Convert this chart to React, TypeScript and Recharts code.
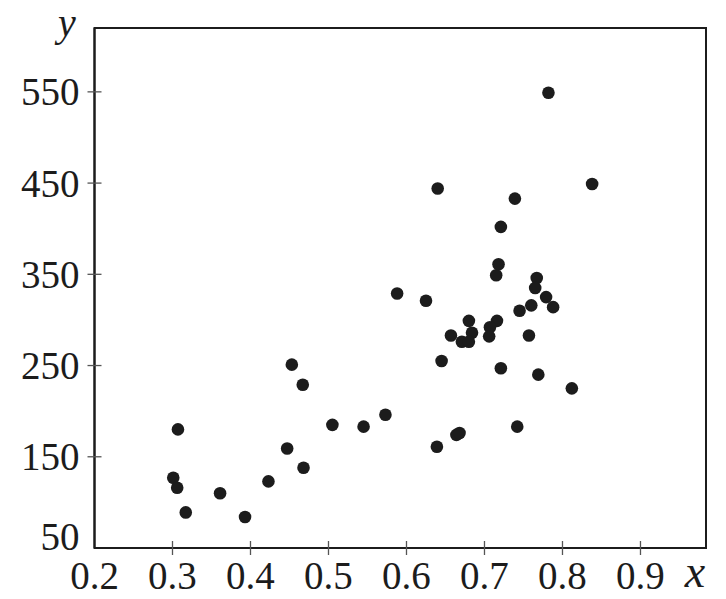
import { ScatterChart, Scatter, XAxis, YAxis, ReferenceArea } from 'recharts'

// values, one x/y pair per dot
const xVals = [
  0.782, 0.640, 0.739, 0.721, 0.838, 0.718, 0.715, 0.767, 0.765, 0.779,
  0.588, 0.625, 0.745, 0.760, 0.788, 0.680, 0.716, 0.707, 0.706, 0.657,
  0.684, 0.671, 0.680, 0.757, 0.645, 0.721, 0.769, 0.812, 0.742, 0.664,
  0.668, 0.639, 0.453, 0.467, 0.307, 0.505, 0.545, 0.573, 0.447, 0.468,
  0.301, 0.306, 0.423, 0.361, 0.317, 0.393,
]
const yVals = [
  549, 444, 433, 402, 449, 361, 349, 346, 335, 325,
  329, 321, 310, 316, 314, 299, 299, 292, 282, 283,
  286, 276, 276, 283, 255, 247, 240, 225, 183, 174,
  176, 161, 251, 229, 180, 185, 183, 196, 159, 138,
  127, 116, 123, 110, 89, 84,
]
const xTicks = [0.2, 0.3, 0.4, 0.5, 0.6, 0.7, 0.8, 0.9]
const yTicks = [50, 150, 250, 350, 450, 550]

const data = xVals.map((x, i) => ({ x, y: yVals[i] }))

const INK = '#1c1c1c'
const textStyle = { fontFamily: 'Liberation Serif, DejaVu Serif, serif' }

const XTick = (props: any) => {
  const { x, y, payload } = props
  return (
    <g>
      {payload.value !== 0.2 && (
        <line x1={x} x2={x} y1={y - 7} y2={y + 7} stroke="#555" strokeWidth={1.3} />
      )}
      <text x={x} y={y + 27.5} textAnchor="middle" dominantBaseline="central"
        style={textStyle} fontSize={39} fill={INK}>
        {payload.value.toFixed(1)}
      </text>
    </g>
  )
}

const YTick = (props: any) => {
  const { x, y, payload } = props
  const bottom = payload.value === 50
  return (
    <g>
      {!bottom && (
        <line x1={x - 7} x2={x + 7} y1={y} y2={y} stroke="#555" strokeWidth={1.3} />
      )}
      <text x={x - 15} y={bottom ? y - 12 : y} textAnchor="end" dominantBaseline="central"
        style={textStyle} fontSize={39} fill={INK}>
        {payload.value}
      </text>
    </g>
  )
}

const Dot = (props: any) => <circle cx={props.cx} cy={props.cy} r={6.3} fill={INK} />

export default function App() {
  return (
    <div style={{ position: 'absolute', left: 0, top: 0, width: 726, height: 599, background: '#fff' }}>
      <ScatterChart width={726} height={599} margin={{ top: 28, right: 20, bottom: 0, left: 0 }}>
        <XAxis
          type="number"
          dataKey="x"
          domain={[0.2, 0.984]}
          ticks={xTicks}
          interval={0}
          allowDataOverflow
          height={51}
          tickSize={0}
          tickMargin={0}
          tickLine={false}
          axisLine={{ stroke: INK, strokeWidth: 2 }}
          tick={<XTick />}
        />
        <YAxis
          type="number"
          dataKey="y"
          domain={[50, 620]}
          ticks={yTicks}
          interval={0}
          allowDataOverflow
          width={94.5}
          tickSize={0}
          tickMargin={0}
          tickLine={false}
          axisLine={{ stroke: INK, strokeWidth: 2 }}
          tick={<YTick />}
        />
        <ReferenceArea x1={0.2} x2={0.984} y1={50} y2={620} fill="none" stroke={INK} strokeWidth={2} />
        <Scatter data={data} shape={<Dot />} isAnimationActive={false} />
      </ScatterChart>
      <svg width={726} height={599} style={{ position: 'absolute', left: 0, top: 0, pointerEvents: 'none' }}>
        <text x={67} y={36} textAnchor="middle" style={textStyle} fontStyle="italic" fontSize={40} fill={INK}>y</text>
        <text x={695} y={587} textAnchor="middle" style={textStyle} fontStyle="italic" fontSize={46} fill={INK}>x</text>
      </svg>
    </div>
  )
}
